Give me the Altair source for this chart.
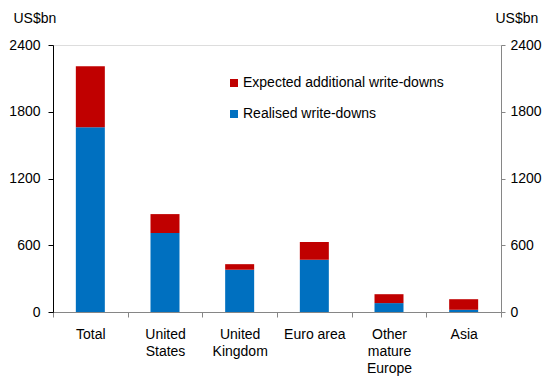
import altair as alt
import pandas as pd

# Write-downs by region, US$ billions
categories = ["Total", "United States", "United Kingdom", "Euro area",
              "Other mature Europe", "Asia"]
realised = [1660, 710, 380, 470, 80, 20]
expected_additional = [550, 170, 50, 160, 80, 95]

series_names = ["Expected additional write-downs", "Realised write-downs"]
series_colors = ["#C00000", "#0070C0"]

rows = []
for cat, r, e in zip(categories, realised, expected_additional):
    rows.append({"region": cat, "series": series_names[1], "value": r, "stack_order": 0})
    rows.append({"region": cat, "series": series_names[0], "value": e, "stack_order": 1})
df = pd.DataFrame(rows)

FONT = "Liberation Sans"
y_domain = [0, 2400]
y_ticks = [0, 600, 1200, 1800, 2400]

x_enc = alt.X(
    "region:N",
    sort=categories,
    scale=alt.Scale(paddingInner=0, paddingOuter=0),
    axis=alt.Axis(
        title=None,
        labelAngle=0,
        labelExpr="datum.label == 'Euro area' ? datum.label : split(datum.label, ' ')",
        labelLineHeight=17,
        labelPadding=10,
        tickBand="extent",
        tickSize=5,
        domainColor="#868686",
        tickColor="#868686",
        labelColor="#000000",
        labelFontSize=14,
        labelFont=FONT,
    ),
)

bars = alt.Chart(df).mark_bar(size=29).encode(
    x=x_enc,
    y=alt.Y(
        "value:Q",
        stack="zero",
        scale=alt.Scale(domain=y_domain, nice=False),
        axis=alt.Axis(
            values=y_ticks,
            format="d",
            title="US$bn",
            titleAngle=0,
            titleAlign="left",
            titleBaseline="middle",
            titleX=-40,
            titleY=-27,
            titleFont=FONT,
            titleFontSize=14,
            titleFontWeight="normal",
            titleColor="#000000",
            domainColor="#000000",
            tickColor="#000000",
            tickSize=5,
            labelPadding=8,
            labelFont=FONT,
            labelFontSize=14,
            labelColor="#000000",
            grid=False,
        ),
    ),
    color=alt.Color(
        "series:N",
        scale=alt.Scale(domain=series_names, range=series_colors),
        legend=alt.Legend(
            title=None,
            orient="none",
            legendX=174,
            legendY=31,
            symbolType="square",
            symbolSize=64,
            symbolStrokeWidth=0,
            labelFont=FONT,
            labelFontSize=14,
            labelColor="#000000",
            labelOffset=2,
            labelLimit=0,
            rowPadding=17,
            padding=0,
        ),
    ),
    order=alt.Order("stack_order:Q"),
)

# Mirror value axis on the right-hand side
right_axis = alt.Chart(df).mark_bar(opacity=0).encode(
    x=alt.X("region:N", sort=categories),
    y=alt.Y(
        "value:Q",
        stack="zero",
        scale=alt.Scale(domain=y_domain, nice=False),
        axis=alt.Axis(
            orient="right",
            values=y_ticks,
            format="d",
            title="US$bn",
            titleAngle=0,
            titleAlign="left",
            titleBaseline="middle",
            titleX=-6,
            titleY=-27,
            titleFont=FONT,
            titleFontSize=14,
            titleFontWeight="normal",
            titleColor="#000000",
            domainColor="#868686",
            tickColor="#868686",
            tickSize=4,
            labelPadding=5,
            labelFont=FONT,
            labelFontSize=14,
            labelColor="#000000",
            grid=False,
        ),
    ),
    order=alt.Order("stack_order:Q"),
)

chart = (
    alt.layer(bars, right_axis)
    .resolve_scale(y="independent")
    .properties(
        width=448,
        height=267,
        autosize=alt.AutoSizeParams(type="none"),
        padding={"left": 53, "top": 45, "right": 42, "bottom": 64},
    )
    .configure_view(stroke=None)
    .configure(background="#ffffff")
)

chart.save("out.html", embed_options={"renderer": "svg", "actions": False})
